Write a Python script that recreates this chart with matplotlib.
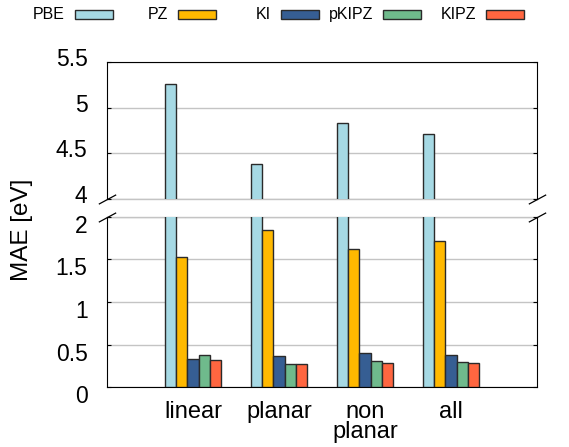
import numpy as np
import matplotlib
matplotlib.use('Agg')
import matplotlib.pyplot as plt
from matplotlib.patches import Rectangle
from matplotlib.transforms import ScaledTranslation

plt.rcParams['font.family'] = ['Liberation Sans', 'DejaVu Sans']

# data
groups = ['linear', 'planar', 'non\nplanar', 'all']
methods = ['PBE', 'PZ', 'KI', 'pKIPZ', 'KIPZ']
colors = ['#a6d9e4', '#ffb900', '#365e93', '#6fba8c', '#ff6640']
pbe = [5.26, 4.38, 4.83, 4.71]
pz = [1.53, 1.84, 1.62, 1.71]
ki = [0.33, 0.37, 0.40, 0.375]
pkipz = [0.375, 0.275, 0.31, 0.30]
kipz = [0.32, 0.275, 0.29, 0.29]
values = [pbe, pz, ki, pkipz, kipz]

W, H = 569, 447
fig = plt.figure(figsize=(W / 100, H / 100), dpi=100)
ax_top = fig.add_axes([107 / W, 1 - 198.7 / H, 430 / W, 136.7 / H])
ax_bot = fig.add_axes([107 / W, 1 - 387.3 / H, 430 / W, 170.6 / H])

x = np.arange(len(groups))
w = 0.128
for ax in (ax_top, ax_bot):
    for i, (vals, c) in enumerate(zip(values, colors)):
        ax.bar(x + (i - 2) * w, vals, w, color=c, edgecolor='#2a2a2a',
               linewidth=1.0, zorder=3)
    ax.set_xlim(-1, 4)
    ax.grid(axis='y', color='#c4c4c4', linewidth=1.0, zorder=0)
    ax.tick_params(axis='y', direction='in', length=3, right=True,
                   labelsize=16.5, pad=14)
    ax.tick_params(axis='x', length=0)

ax_top.set_ylim(4, 5.5)
ax_top.set_yticks([4, 4.5, 5, 5.5], labels=['4', '4.5', '5', '5.5'])
ax_top.set_xticks([])
ax_top.spines['bottom'].set_visible(False)
ax_top.axhline(4, color='#c4c4c4', linewidth=1.0, zorder=0, clip_on=False)

ax_bot.set_ylim(0, 2)
ax_bot.set_yticks([0, 0.5, 1, 1.5, 2], labels=['0', '0.5', '1', '1.5', '2'])
ax_bot.set_xticks(x, labels=groups, fontsize=17, linespacing=0.9)
ax_bot.tick_params(axis='x', pad=10)
ax_bot.spines['top'].set_visible(False)
ax_bot.axhline(2, color='#c4c4c4', linewidth=1.0, zorder=0, clip_on=False)

# gnuplot-ish label offsets
up = ScaledTranslation(0, 0.05, fig.dpi_scale_trans)
down = ScaledTranslation(0, -0.07, fig.dpi_scale_trans)
for lab in ax_top.get_yticklabels():
    lab.set_transform(lab.get_transform() + up)
for lab in ax_bot.get_yticklabels():
    lab.set_transform(lab.get_transform() + down)

# break marks
mk = dict(marker=[(-1, -0.54), (1, 0.54)], markersize=12.5, linestyle='none',
          color='k', mec='k', mew=0.9, clip_on=False)
ax_top.plot([0, 1], [0, 0], transform=ax_top.transAxes, **mk)
ax_bot.plot([0, 1], [1, 1], transform=ax_bot.transAxes, **mk)

fig.text(22 / W, 1 - 230 / H, 'MAE [eV]', rotation=90, ha='center',
         va='center', fontsize=17.5)

# legend, gnuplot style: text then swatch
for i, (name, c) in enumerate(zip(methods, colors)):
    x0 = 75 + i * 102.75
    fig.add_artist(Rectangle((x0 / W, 1 - 18.5 / H), 38 / W, 8 / H,
                             facecolor=c, edgecolor='#2a2a2a', linewidth=1.0,
                             transform=fig.transFigure))
    fig.text((x0 - 10) / W, 1 - 14.5 / H, name, ha='right', va='center',
             fontsize=11.5)

fig.savefig('out.png', dpi=100)
